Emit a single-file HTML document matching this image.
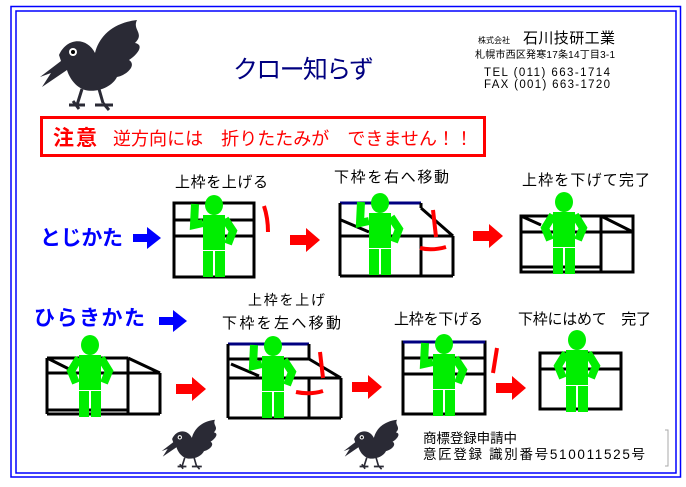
<!DOCTYPE html>
<html><head><meta charset="utf-8"><style>
body{margin:0;background:#fff;width:686px;height:487px;overflow:hidden}
svg{display:block}
text{font-family:"Liberation Sans","Noto Sans CJK JP",sans-serif}
</style></head><body>
<svg width="686" height="487" viewBox="0 0 686 487">
<rect width="686" height="487" fill="#fff"/>
<rect x="11" y="6.5" width="669.5" height="470.5" fill="none" stroke="#0000ff" stroke-width="1.5"/>
<rect x="16" y="11" width="660" height="462" fill="none" stroke="#0000ff" stroke-width="1.5"/>

<defs>
<g id="crow">
 <path d="M22,40 C30,22 50,22 58,38 C62,22 75,8 100,5 C95,15 108,18 98,28 C108,30 100,40 92,45 C100,50 90,60 80,62 C75,72 60,78 48,75 C38,72 32,62 30,55 L5,72 L14,58 L3,62 L24,46 Z" fill="#2a2a35"/>
 <circle cx="36" cy="37" r="4" fill="#fff"/><circle cx="36" cy="37" r="2" fill="#000"/>
 <path d="M45,74 L40,90 M32,90 L48,90 M36,86 L42,94 M62,74 L66,88 M58,90 L76,90 M66,88 L72,95" stroke="#2a2a35" stroke-width="3" fill="none"/>
</g>
<g id="fig">
 <ellipse cx="0" cy="0" rx="9" ry="10" fill="#00ee00"/>
 <rect x="-11" y="10" width="22" height="35" fill="#00ee00"/>
 <rect x="-11" y="46" width="10" height="26" fill="#00ee00"/>
 <rect x="1" y="46" width="10" height="26" fill="#00ee00"/>
 <polyline points="-11,18 -20,20 -19,-1" fill="none" stroke="#00ee00" stroke-width="8"/>
 <polyline points="11,14 19,26 14,39" fill="none" stroke="#00ee00" stroke-width="8"/>
</g>
<g id="fig2">
 <ellipse cx="0" cy="0" rx="9" ry="10" fill="#00ee00"/>
 <rect x="-11" y="10" width="22" height="35" fill="#00ee00"/>
 <rect x="-11" y="46" width="10" height="26" fill="#00ee00"/>
 <rect x="1" y="46" width="10" height="26" fill="#00ee00"/>
 <polyline points="-11,13 -19,26 -14,38" fill="none" stroke="#00ee00" stroke-width="8"/>
 <polyline points="11,13 19,26 14,38" fill="none" stroke="#00ee00" stroke-width="8"/>
</g>
<path id="rarr" d="M0,7 L16,7 L16,0 L30,12 L16,24 L16,17 L0,17 Z" fill="#ff0000"/>
<path id="barr" d="M0,7 L14,7 L14,0 L28,11 L14,22 L14,15 L0,15 Z" fill="#0000ff"/>
</defs>

<use href="#crow" x="37" y="15"/>
<text x="233" y="78" font-size="25" fill="#000080" textLength="141">クロー知らず</text>
<text x="478" y="43" font-size="8" fill="#000">株式会社</text>
<text x="523" y="43" font-size="15" fill="#000" textLength="92">石川技研工業</text>
<text x="475" y="58" font-size="10" fill="#000" textLength="140">札幌市西区発寒17条14丁目3-1</text>
<text x="484" y="76" font-size="11.5" fill="#000" font-family="Liberation Mono,monospace" textLength="126">TEL (011) 663-1714</text>
<text x="484" y="88" font-size="11.5" fill="#000" font-family="Liberation Mono,monospace" textLength="126">FAX (001) 663-1720</text>

<rect x="41.5" y="117.5" width="443" height="38" fill="none" stroke="#ff0000" stroke-width="3"/>
<text x="53" y="145" font-size="21" font-weight="bold" fill="#ff0000" textLength="44">注意</text>
<text x="113" y="145" font-size="18" fill="#ff0000" textLength="360">逆方向には　折りたたみが　できません！！</text>

<!-- Row 1 -->
<text x="175" y="187" font-size="15" fill="#000" textLength="93">上枠を上げる</text>
<text x="334" y="182" font-size="15" fill="#000" textLength="115">下枠を右へ移動</text>
<text x="522" y="185" font-size="15" fill="#000" textLength="128">上枠を下げて完了</text>
<text x="40" y="245" font-size="21" font-weight="bold" fill="#0000ff" textLength="83">とじかた</text>
<use href="#barr" x="133" y="227"/>

<g stroke="#000" stroke-width="3" fill="none">
 <rect x="174" y="203" width="80" height="74"/>
 <line x1="174" y1="220" x2="254" y2="220"/>
 <line x1="174" y1="236" x2="254" y2="236"/>
</g>
<use href="#fig" x="214" y="205"/>
<path d="M264,206 Q268,218 268,232" stroke="#ff0000" stroke-width="4" fill="none"/>
<use href="#rarr" x="290" y="228"/>

<g stroke="#000" stroke-width="3" fill="none">
 <line x1="340" y1="203" x2="421" y2="203" stroke="#000080"/>
 <line x1="340" y1="203" x2="340" y2="276"/>
 <line x1="421" y1="203" x2="421" y2="208"/>
 <line x1="341" y1="220" x2="369" y2="232"/>
 <line x1="421" y1="208" x2="453" y2="236"/>
 <line x1="340" y1="236" x2="453" y2="236"/>
 <line x1="453" y1="236" x2="453" y2="276"/>
 <line x1="421" y1="236" x2="421" y2="276"/>
 <line x1="340" y1="276" x2="453" y2="276"/>
</g>
<use href="#fig" x="380" y="203"/>
<path d="M433,210 L436,237" stroke="#ff0000" stroke-width="4" fill="none"/>
<path d="M420,248 Q432,251 446,247" stroke="#ff0000" stroke-width="4" fill="none"/>
<use href="#rarr" x="473" y="224"/>

<g stroke="#000" stroke-width="3" fill="none">
 <rect x="521" y="216" width="112" height="56"/>
 <line x1="521" y1="216" x2="541" y2="225"/>
 <line x1="601" y1="216" x2="633" y2="232"/>
 <line x1="521" y1="232" x2="633" y2="232"/>
 <line x1="601" y1="216" x2="601" y2="272"/>
 <line x1="521" y1="267" x2="601" y2="267"/>
</g>
<use href="#fig2" x="564" y="202"/>

<!-- Row 2 -->
<text x="248" y="305" font-size="14" fill="#000" textLength="77">上枠を上げ</text>
<text x="222" y="328" font-size="15" fill="#000" textLength="119">下枠を左へ移動</text>
<text x="394" y="324" font-size="15" fill="#000" textLength="89">上枠を下げる</text>
<text x="518" y="324" font-size="15" fill="#000" textLength="133">下枠にはめて　完了</text>
<text x="34" y="325" font-size="21" font-weight="bold" fill="#0000ff" textLength="111">ひらきかた</text>
<use href="#barr" x="159" y="310"/>

<g stroke="#000" stroke-width="3" fill="none">
 <line x1="47" y1="358" x2="128" y2="358"/>
 <line x1="47" y1="358" x2="75" y2="372"/>
 <line x1="128" y1="358" x2="160" y2="373"/>
 <line x1="47" y1="358" x2="47" y2="414"/>
 <line x1="47" y1="373" x2="160" y2="373"/>
 <line x1="160" y1="373" x2="160" y2="414"/>
 <line x1="128" y1="358" x2="128" y2="414"/>
 <line x1="47" y1="414" x2="160" y2="414"/>
 <line x1="47" y1="410" x2="128" y2="410"/>
</g>
<use href="#fig2" x="90" y="345"/>
<use href="#rarr" x="176" y="377"/>

<g stroke="#000" stroke-width="3" fill="none">
 <line x1="228" y1="344" x2="309" y2="344" stroke="#000080"/>
 <line x1="228" y1="344" x2="228" y2="418"/>
 <line x1="309" y1="344" x2="309" y2="359"/>
 <line x1="228" y1="359" x2="309" y2="359"/>
 <line x1="231" y1="364" x2="259" y2="376"/>
 <line x1="309" y1="359" x2="341" y2="378"/>
 <line x1="228" y1="378" x2="341" y2="378"/>
 <line x1="341" y1="378" x2="341" y2="418"/>
 <line x1="309" y1="378" x2="309" y2="418"/>
 <line x1="228" y1="418" x2="341" y2="418"/>
</g>
<use href="#fig" x="273" y="346"/>
<path d="M320,352 L323,378" stroke="#ff0000" stroke-width="4" fill="none"/>
<path d="M296,392 Q310,395 323,391" stroke="#ff0000" stroke-width="4" fill="none"/>
<use href="#rarr" x="352" y="375"/>

<g stroke="#000" stroke-width="3" fill="none">
 <rect x="403" y="342" width="82" height="72"/>
 <line x1="403" y1="342" x2="485" y2="342" stroke="#000080"/>
 <line x1="403" y1="358" x2="485" y2="358"/>
 <line x1="403" y1="374" x2="485" y2="374"/>
</g>
<use href="#fig" x="444" y="344"/>
<path d="M497,348 L493,373" stroke="#ff0000" stroke-width="4" fill="none"/>
<use href="#rarr" x="496" y="376"/>

<g stroke="#000" stroke-width="3" fill="none">
 <rect x="540" y="353" width="81" height="56"/>
 <line x1="540" y1="369" x2="621" y2="369"/>
</g>
<use href="#fig2" x="577" y="340"/>

<use href="#crow" transform="translate(160,417) scale(0.55)"/>
<use href="#crow" transform="translate(342,417) scale(0.55)"/>
<text x="423" y="443" font-size="13.5" fill="#000" textLength="94">商標登録申請中</text>
<text x="423" y="459" font-size="13.5" fill="#000" textLength="222">意匠登録 識別番号510011525号</text>
<path d="M665,430 L668,430 L668,466 L665,466" stroke="#aaa" fill="none"/>
</svg>
</body></html>
